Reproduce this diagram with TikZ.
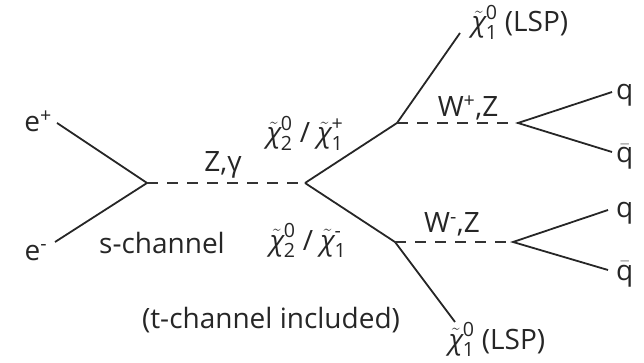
\documentclass[tikz,border=0pt]{standalone}
\usepackage{fontspec}
\setmainfont{Open Sans}
\usepackage{amsmath}
\newcommand{\chit}[2]{$\tilde{\text{\itshape χ}}^{\text{#1}}_{\text{#2}}$}
\tikzset{
  leg/.style={line width=1.8pt, black!85},
  prop/.style={line width=1.8pt, black!80, dash pattern=on 11pt off 9pt},
  lbl/.style={inner sep=0pt, anchor=base, text=black!85, font=\fontsize{28}{31}\selectfont}
}
\begin{document}
\begin{tikzpicture}[x=1pt,y=-1pt]
    \useasboundingbox (0,0) rectangle (644,363);
    % vertices
    \coordinate (v1) at (147,183);
    \coordinate (v2) at (305,183);
    \coordinate (v3) at (397,123);
    \coordinate (v4) at (518,123);
    \coordinate (v5) at (395,242);
    \coordinate (v6) at (513,242);
    % free ends
    \coordinate (ep) at (57,123);
    \coordinate (em) at (55,242);
    \coordinate (lspa) at (460,33);
    \coordinate (lspb) at (455,322);
    \coordinate (qa) at (612,92);
    \coordinate (qba) at (612,152);
    \coordinate (qc) at (608,210);
    \coordinate (qbc) at (608,270);
    % incoming beams
    \draw[leg] (ep) -- (v1) -- (em);
    \draw[prop] (v1) -- (v2);
    % charginos / neutralinos
    \draw[leg] (v2) -- (v3) -- (lspa);
    \draw[leg] (v2) -- (v5) -- (lspb);
    \draw[prop] (v3) -- (v4);
    \draw[prop] (v5) -- (v6);
    \draw[leg] (qa) -- (v4) -- (qba);
    \draw[leg] (qc) -- (v6) -- (qbc);
    % labels
    \node[lbl] (eplus) at (38,132) {e\textsuperscript{+}};
    \node[lbl] (eminus) at (36,260) {e\textsuperscript{-}};
    \node[lbl] (zg) at (223,172) {Z,γ};
    \node[lbl] (sch) at (162,253) {s-channel};
    \node[lbl] (chup) at (305,143) {\chit{0}{2} / \chit{+}{1}};
    \node[lbl] (chdn) at (308,250) {\chit{0}{2} / \chit{-}{1}};
    \node[lbl] (wp) at (468,117) {W\textsuperscript{+},Z};
    \node[lbl] (wm) at (452,233) {W\textsuperscript{-},Z};
    \node[lbl, anchor=base west] (q1) at (616,100) {q};
    \node[lbl, anchor=base west] (q1b) at (616,163) {$\bar{\text{q}}$};
    \node[lbl, anchor=base west] (q2) at (616,218) {q};
    \node[lbl, anchor=base west] (q2b) at (616,280) {$\bar{\text{q}}$};
    \node[lbl] (lsp1) at (520,32) {\chit{0}{1} (LSP)};
    \node[lbl] (lsp2) at (497,349) {\chit{0}{1} (LSP)};
    \node[lbl] (tch) at (271,328) {(t-channel included)};
\end{tikzpicture}
\end{document}
